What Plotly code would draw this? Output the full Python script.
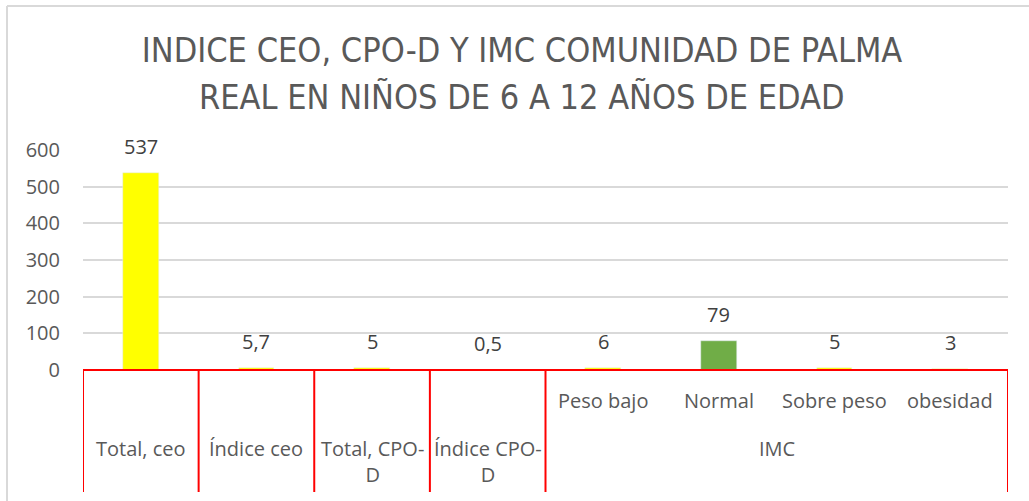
import plotly.graph_objects as go

# ---- data ----
groups = ["Total, ceo", "Índice ceo", "Total, CPO-D", "Índice CPO-D", "IMC", "IMC", "IMC", "IMC"]
subcats = ["", "", "", "", "Peso bajo", "Normal", "Sobre peso", "obesidad"]
values = [537, 5.7, 5, 0.5, 6, 79, 5, 3]
bar_colors = ["#FFFF00", "#FFFF00", "#FFFF00", "#FFFF00", "#FFFF00", "#70AD47", "#FFFF00", "#FFFF00"]
y_ticks = [0, 100, 200, 300, 400, 500, 600]
title_lines = ["INDICE CEO, CPO-D Y IMC COMUNIDAD DE PALMA", "REAL EN NIÑOS DE 6 A 12 AÑOS DE EDAD"]

W, H = 1029, 501
L, R, T, B = 83, 21, 150, 131
plot_h = H - T - B
plot_w = W - L - R

def py(p):  # pixel y -> paper y
    return (H - B - p) / plot_h

def px(p):  # pixel x -> paper x
    return (p - L) / plot_w

def fmt(v):
    s = ("%g" % v)
    return s.replace(".", ",")

def wrap(label):
    if "-" in label and not label.endswith("-") and len(label) > 11:
        i = label.rfind("-")
        return label[: i + 1] + "<br>" + label[i + 1:]
    return label

xs = list(range(len(values)))
text_color = "#595959"
font_family = "'Open Sans', Lato, sans-serif"
title_family = "'Liberation Sans Narrow', 'DejaVu Sans Condensed', sans-serif"

fig = go.Figure()
fig.add_trace(go.Bar(
    x=xs, y=values, marker_color=bar_colors, width=0.31,
    hoverinfo="skip", showlegend=False,
))

annotations = []
# title (second line placed separately for exact line spacing)
annotations.append(dict(
    x=px(522), y=py(97), xref="paper", yref="paper", text=title_lines[1], showarrow=False,
    xanchor="center", yanchor="middle", font=dict(size=34, color=text_color, family=title_family),
))
# data labels
for x, v in zip(xs, values):
    annotations.append(dict(
        x=x, y=v, xref="x", yref="y", text=fmt(v), showarrow=False,
        yanchor="bottom", yshift=11, font=dict(size=20, color="#404040", family=font_family),
    ))

# category labels
shapes = []
i = 0
n = len(groups)
while i < n:
    j = i
    while j + 1 < n and groups[j + 1] == groups[i]:
        j += 1
    has_sub = any(subcats[k] for k in range(i, j + 1))
    if has_sub:
        for k in range(i, j + 1):
            annotations.append(dict(
                x=k, y=py(400), xref="x", yref="paper", text=subcats[k], showarrow=False,
                yanchor="middle", font=dict(size=20, color=text_color, family=font_family),
            ))
    annotations.append(dict(
        x=(i + j) / 2, y=py(433), xref="x", yref="paper", text=wrap(groups[i]), showarrow=False,
        yanchor="top", font=dict(size=20, color=text_color, family=font_family),
    ))
    shapes.append(dict(type="line", xref="x", yref="paper", x0=i - 0.5, x1=i - 0.5,
                       y0=0, y1=py(492), layer="above", line=dict(color="#FF0000", width=2)))
    i = j + 1
shapes.append(dict(type="line", xref="x", yref="paper", x0=n - 0.5, x1=n - 0.5,
                   y0=0, y1=py(492), layer="above", line=dict(color="#FF0000", width=2)))
shapes.append(dict(type="line", xref="x", yref="paper", x0=-0.5, x1=n - 0.5,
                   y0=0, y1=0, layer="above", line=dict(color="#FF0000", width=2)))
# chart border (left and top visible)
shapes.append(dict(type="line", xref="paper", yref="paper", x0=px(7), x1=px(7),
                   y0=py(6), y1=py(H + 5), line=dict(color="#D9D9D9", width=2)))
shapes.append(dict(type="line", xref="paper", yref="paper", x0=px(7), x1=px(W + 5),
                   y0=py(6), y1=py(6), line=dict(color="#D9D9D9", width=2)))

fig.update_layout(
    width=W, height=H,
    margin=dict(l=L, r=R, t=T, b=B, pad=0),
    paper_bgcolor="white", plot_bgcolor="white",
    title=dict(
        text=title_lines[0],
        x=522 / W, xanchor="center", xref="container",
        y=1 - 50 / H, yanchor="middle", yref="container",
        font=dict(size=34, color=text_color, family=title_family),
    ),
    xaxis=dict(range=[-0.5, n - 0.5], showticklabels=False, showgrid=False, zeroline=False,
               showline=False, ticks=""),
    yaxis=dict(range=[0, 600], tickvals=y_ticks, showgrid=True, gridcolor="#D9D9D9", gridwidth=1.5,
               zeroline=False, showline=False, ticks="", ticklabelstandoff=22,
               tickfont=dict(size=20, color=text_color, family=font_family)),
    annotations=annotations,
    shapes=shapes,
    bargap=0,
)

fig.write_html("out.html", config={"displayModeBar": False},
               post_script="document.body.style.margin='0px';document.body.style.overflow='hidden';")
